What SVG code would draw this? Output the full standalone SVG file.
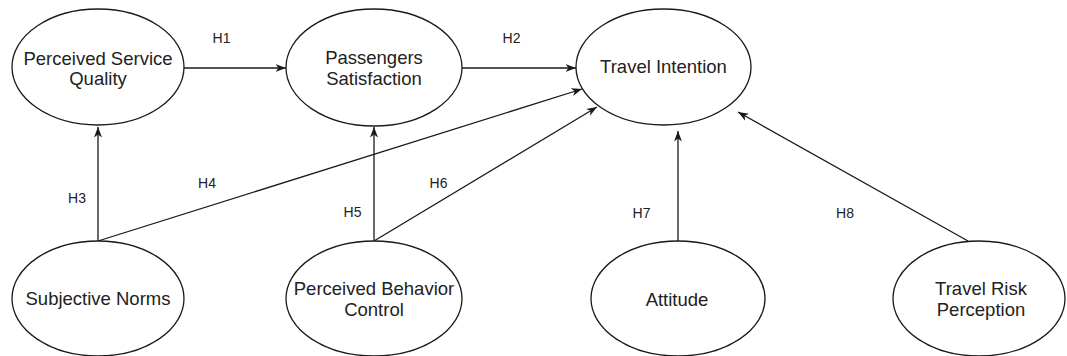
<svg xmlns="http://www.w3.org/2000/svg" width="1067" height="356" viewBox="0 0 1067 356">
  <style>
    .node ellipse { fill: #ffffff; stroke: #1a1a1a; stroke-width: 1.3; }
    .node text { font-family: "Liberation Sans", Arial, sans-serif; font-size: 18.5px; fill: #222222; text-anchor: middle; }
    .edge { stroke: #1a1a1a; stroke-width: 1.3; fill: none; marker-end: url(#arrow); }
    .lbl { font-family: "Liberation Sans", Arial, sans-serif; font-size: 14px; fill: #222222; text-anchor: middle; }
  </style>
  <defs>
    <marker id="arrow" markerUnits="userSpaceOnUse" markerWidth="11" markerHeight="9" refX="10.5" refY="4.5" orient="auto">
      <path d="M0,0.5 L10.5,4.5 L0,8.5 L3,4.5 z" fill="#1a1a1a"/>
    </marker>
  </defs>
  <rect width="1067" height="356" fill="#ffffff"/>

  <g id="connectors">
    <line class="edge" x1="184" y1="68" x2="286" y2="68"/>
    <line class="edge" x1="462" y1="68" x2="576" y2="68"/>
    <line class="edge" x1="98" y1="241" x2="98" y2="127"/>
    <line class="edge" x1="98" y1="241" x2="582" y2="89"/>
    <line class="edge" x1="374" y1="241" x2="374" y2="127"/>
    <line class="edge" x1="374" y1="241" x2="597" y2="107"/>
    <line class="edge" x1="678" y1="241" x2="678" y2="131"/>
    <line class="edge" x1="968" y1="241" x2="738" y2="112"/>
    <text class="lbl" x="221.5" y="43">H1</text>
    <text class="lbl" x="511.5" y="43">H2</text>
    <text class="lbl" x="77" y="203">H3</text>
    <text class="lbl" x="207" y="188">H4</text>
    <text class="lbl" x="352.5" y="217">H5</text>
    <text class="lbl" x="438.5" y="188">H6</text>
    <text class="lbl" x="641.5" y="218">H7</text>
    <text class="lbl" x="845" y="218">H8</text>
  </g>

  <g id="perceived-service-quality" class="node">
    <ellipse cx="98" cy="67" rx="86" ry="58"/>
    <text x="98" y="65">Perceived Service</text>
    <text x="98" y="85">Quality</text>
  </g>
  <g id="passengers-satisfaction" class="node">
    <ellipse cx="374" cy="67.5" rx="88" ry="58.5"/>
    <text x="374" y="64">Passengers</text>
    <text x="374" y="85">Satisfaction</text>
  </g>
  <g id="travel-intention" class="node">
    <ellipse cx="663.5" cy="67" rx="87.5" ry="58"/>
    <text x="663.5" y="73">Travel Intention</text>
  </g>
  <g id="subjective-norms" class="node">
    <ellipse cx="98" cy="298.5" rx="86" ry="57.5"/>
    <text x="98" y="305">Subjective Norms</text>
  </g>
  <g id="perceived-behavior-control" class="node">
    <ellipse cx="374" cy="298.5" rx="88" ry="57.5"/>
    <text x="374" y="295">Perceived Behavior</text>
    <text x="374" y="316">Control</text>
  </g>
  <g id="attitude" class="node">
    <ellipse cx="678" cy="298.5" rx="87" ry="57.5"/>
    <text x="677" y="306">Attitude</text>
  </g>
  <g id="travel-risk-perception" class="node">
    <ellipse cx="979" cy="298.5" rx="86" ry="57.5"/>
    <text x="981" y="295">Travel Risk</text>
    <text x="981" y="316">Perception</text>
  </g>
</svg>
